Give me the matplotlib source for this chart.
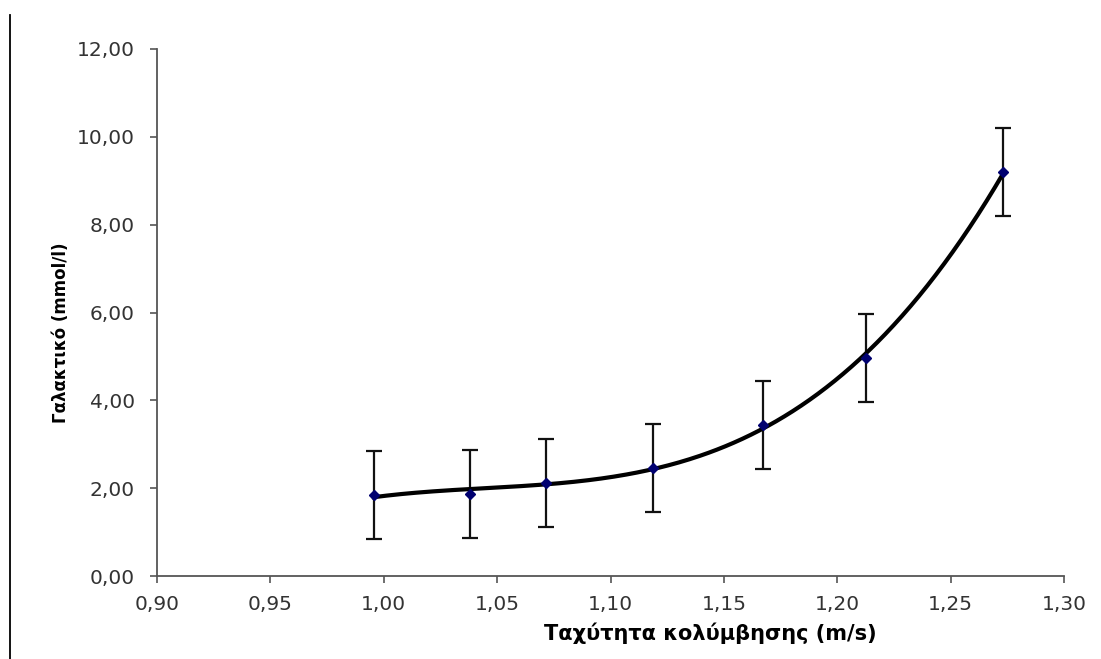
import numpy as np
import matplotlib
matplotlib.use("Agg")
import matplotlib.pyplot as plt
from matplotlib.lines import Line2D

# swimming speed (m/s) and blood lactate (mmol/l), with error bar half-widths
speed = [0.9956, 1.038, 1.0714, 1.1186, 1.1672, 1.2127, 1.2732]
lactate = [1.84, 1.87, 2.12, 2.46, 3.44, 4.96, 9.20]
err = [1.0, 1.0, 1.0, 1.0, 1.0, 1.0, 1.0]

xticks = [0.90, 0.95, 1.00, 1.05, 1.10, 1.15, 1.20, 1.25, 1.30]
yticks = [0, 2, 4, 6, 8, 10, 12]

plt.rcParams['font.family'] = ['DejaVu Sans']

fig = plt.figure(figsize=(11.01, 6.59), dpi=100)
ax = fig.add_axes([157 / 1101, 1 - 576 / 659, (1064 - 157) / 1101, (576 - 49) / 659])

# polynomial trendline (3rd order) over the measured range
coef = np.polyfit(speed, lactate, 3)
tx = np.linspace(min(speed), max(speed), 300)
ax.plot(tx, np.polyval(coef, tx), color='black', linewidth=3, zorder=3)

ax.errorbar(speed, lactate, yerr=err, fmt='none', ecolor='#111111',
            elinewidth=1.6, capsize=6, capthick=1.6, zorder=2)
ax.plot(speed, lactate, linestyle='none', marker='D', markersize=5.5,
        color='#000070', zorder=4)

ax.set_xlim(0.90, 1.30)
ax.set_ylim(0, 12)
ax.set_xticks(xticks)
ax.set_yticks(yticks)
ax.set_xticklabels([f"{v:.2f}".replace('.', ',') for v in xticks])
ax.set_yticklabels([f"{v:.2f}".replace('.', ',') for v in yticks])

for s in ['top', 'right']:
    ax.spines[s].set_visible(False)
for s in ['left', 'bottom']:
    ax.spines[s].set_color('#555555')
    ax.spines[s].set_linewidth(1.3)

ax.tick_params(axis='both', direction='out', length=5, width=1.2,
               color='#555555', labelsize=14.5, labelcolor='#333333')
ax.tick_params(axis='x', pad=9)
ax.tick_params(axis='y', pad=11)

ax.set_xlabel("Ταχύτητα κολύμβησης (m/s)", fontsize=15, fontweight='bold')
ax.xaxis.set_label_coords((710 - 157) / 907, -(623 - 576) / 527)
ax.set_ylabel("Γαλακτικό (mmol/l)", fontsize=12, fontweight='bold')
ax.yaxis.set_label_coords(-(157 - 70) / 907, (576 - 333) / 527)

# thin frame line at the left edge of the picture
fig.add_artist(Line2D([10 / 1101, 10 / 1101], [0, 1 - 15 / 659],
                      transform=fig.transFigure, color='black', linewidth=1.3))

fig.savefig("out.png", dpi=100)
